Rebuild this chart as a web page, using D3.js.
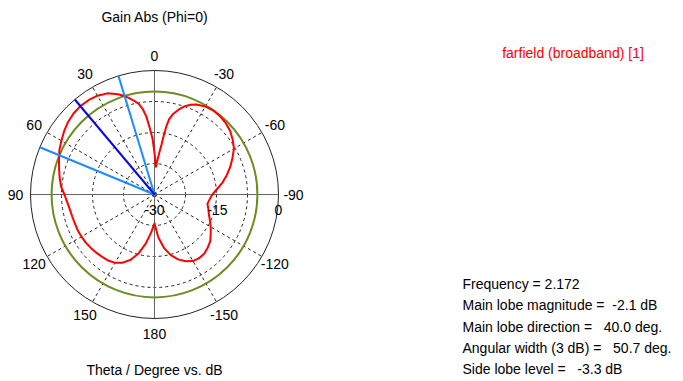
<!DOCTYPE html>
<html>
<head>
<meta charset="utf-8">
<script src="https://cdn.jsdelivr.net/npm/d3@7"></script>
<style>
  html, body { margin: 0; padding: 0; background: #fff; }
  svg { display: block; }
  text { font-family: "Liberation Sans", Arial, sans-serif; }
</style>
</head>
<body>
<svg id="chart" width="683" height="381"></svg>
<script>
// ---------- data ----------
const thetaDeg = [-180,-175,-170,-165,-160,-155,-150,-145,-140,-135,-130,-125,-120,-115,-110,-105,-100,-95,-90,-85,-80,-75,-70,-65,-60,-55,-50,-45,-40,-35,-30,-25,-22,-19,-16,-13,-11,-10,-9,-8,-7,-6,-5,-3,
  0,2,4,6,8,10,12,15,17,20,25,30,35,40,45,50,55,60,65,67.6,70,75,80,85,90,95,100,105,110,115,120,125,130,135,140,145,150,155,160,165,170,175];
const gainDb = [-23.0,-19.6,-16.9,-14.8,-13.3,-12.2,-11.4,-11.2,-11.3,-11.8,-12.4,-13.4,-14.3,-15.2,-16.0,-16.5,-17.0,-16.6,-16.0,-14.8,-13.3,-11.9,-10.5,-9.2,-7.8,-6.9,-6.1,-5.6,-5.3,-5.2,-5.4,-6.0,-6.6,-7.4,-8.6,-10.0,-11.5,-13.0,-15.3,-17.8,-19.2,-20.5,-21.5,-23.3,
  -20.0,-16.5,-14.0,-11.0,-9.0,-7.7,-6.9,-5.8,-5.1,-4.2,-3.0,-2.4,-2.15,-2.1,-2.3,-2.7,-3.3,-4.0,-4.6,-5.1,-5.4,-6.1,-6.7,-7.3,-8.2,-8.8,-9.2,-9.4,-9.5,-9.5,-9.6,-9.7,-9.9,-10.1,-10.3,-10.5,-10.9,-11.8,-13.2,-15.3,-18.0,-20.8];

const angleTicks = [0, 30, 60, 90, 120, 150, 180, -150, -120, -90, -60, -30];
const angleLabels = ["0","30","60","90","120","150","180","-150","-120","-90","-60","-30"];
const radialTicks = [-30, -15, 0];
const ringLevels = [-22.5, -15, -7.5];
const dbRange = [-30, 0];

const mainLobeMag = -2.1;
const mainLobeDir = 40.0;
const beamEdges = [16.9, 67.6];
const threeDbLevel = mainLobeMag - 3;

const titleText = "Gain Abs (Phi=0)";
const axisTitle = "Theta / Degree vs. dB";
const legendText = "farfield (broadband) [1]";
const infoLines = [
  "Frequency = 2.172",
  "Main lobe magnitude =  -2.1 dB",
  "Main lobe direction =   40.0 deg.",
  "Angular width (3 dB) =   50.7 deg.",
  "Side lobe level =   -3.3 dB"
];

// ---------- drawing ----------
const svg = d3.select("#chart");
const cx = 154.5, cy = 194.5, R = 124;
const r = d3.scaleLinear().domain(dbRange).range([0, R]).clamp(true);
const ang = d3.scaleLinear().domain([0, 360]).range([0, -2 * Math.PI]); // CCW from top
const px = (t, rad) => -rad * Math.sin(ang(t) * -1) ;
const g = svg.append("g").attr("transform", `translate(${cx},${cy})`);

// dashed rings
g.selectAll("circle.ring").data(ringLevels).join("circle")
  .attr("r", d => r(d)).attr("fill", "none")
  .attr("stroke", "#222").attr("stroke-width", 1).attr("stroke-dasharray", "3,3");

// dashed spokes
const spokeAngles = angleTicks.filter(a => a % 90 !== 0);
g.selectAll("line.spoke").data(spokeAngles).join("line")
  .attr("x1", 0).attr("y1", 0)
  .attr("x2", d => R * Math.sin(ang(d))).attr("y2", d => -R * Math.cos(ang(d)))
  .attr("stroke", "#222").attr("stroke-width", 1).attr("stroke-dasharray", "3,3");

// solid axes
g.append("line").attr("x1", -R).attr("x2", R).attr("y1", 0).attr("y2", 0)
  .attr("stroke", "#666").attr("stroke-width", 1);
g.append("line").attr("x1", 0).attr("x2", 0).attr("y1", -R).attr("y2", R)
  .attr("stroke", "#666").attr("stroke-width", 1);

// outer circle
g.append("circle").attr("r", r(dbRange[1])).attr("fill", "none")
  .attr("stroke", "#222").attr("stroke-width", 1);

// 3 dB circle
g.append("circle").attr("r", r(threeDbLevel)).attr("fill", "none")
  .attr("stroke", "#6b8e23").attr("stroke-width", 2);

// pattern
const pts = thetaDeg.map((t, i) => ({ t, v: gainDb[i] }));
const radial = d3.lineRadial()
  .angle(d => ang(d.t))
  .radius(d => r(d.v))
  .curve(d3.curveLinearClosed);
g.append("path").attr("d", radial(pts)).attr("fill", "none")
  .attr("stroke", "#ff0000").attr("stroke-width", 2).attr("stroke-linejoin", "round");

// beam-width lines
g.selectAll("line.edge").data(beamEdges).join("line")
  .attr("x1", 0).attr("y1", 0)
  .attr("x2", d => R * Math.sin(ang(d))).attr("y2", d => -R * Math.cos(ang(d)))
  .attr("stroke", "#1e8cff").attr("stroke-width", 2);
// main lobe line
g.append("line").attr("x1", 0).attr("y1", 0)
  .attr("x2", R * Math.sin(ang(mainLobeDir))).attr("y2", -R * Math.cos(ang(mainLobeDir)))
  .attr("stroke", "#0a0ad8").attr("stroke-width", 2);

// angle labels
const labR = R + 15;
g.selectAll("text.ang").data(angleTicks).join("text")
  .attr("x", d => labR * Math.sin(ang(d)))
  .attr("y", d => -labR * Math.cos(ang(d)))
  .attr("text-anchor", "middle").attr("dominant-baseline", "central")
  .attr("font-size", 14).attr("fill", "#000")
  .text((d, i) => angleLabels[i]);

// radial labels
g.selectAll("text.rad").data(radialTicks).join("text")
  .attr("x", d => r(d) + (d === -15 ? 1 : 0))
  .attr("y", 15)
  .attr("text-anchor", "middle").attr("dominant-baseline", "central")
  .attr("font-size", 14).attr("fill", "#000")
  .text(d => d);

// titles
svg.append("text").attr("x", cx).attr("y", 22).attr("text-anchor", "middle")
  .attr("font-size", 14).attr("fill", "#000").text(titleText);
svg.append("text").attr("x", cx).attr("y", 375).attr("text-anchor", "middle")
  .attr("font-size", 14).attr("fill", "#000").text(axisTitle);
svg.append("text").attr("x", 573).attr("y", 58).attr("text-anchor", "middle")
  .attr("font-size", 14).attr("fill", "#ff0000").text(legendText);

svg.selectAll("text.info").data(infoLines).join("text")
  .attr("x", 462.5).attr("y", (d, i) => 289 + i * 21.3)
  .attr("font-size", 14).attr("fill", "#000")
  .style("white-space", "pre")
  .text(d => d);
</script>
</body>
</html>
